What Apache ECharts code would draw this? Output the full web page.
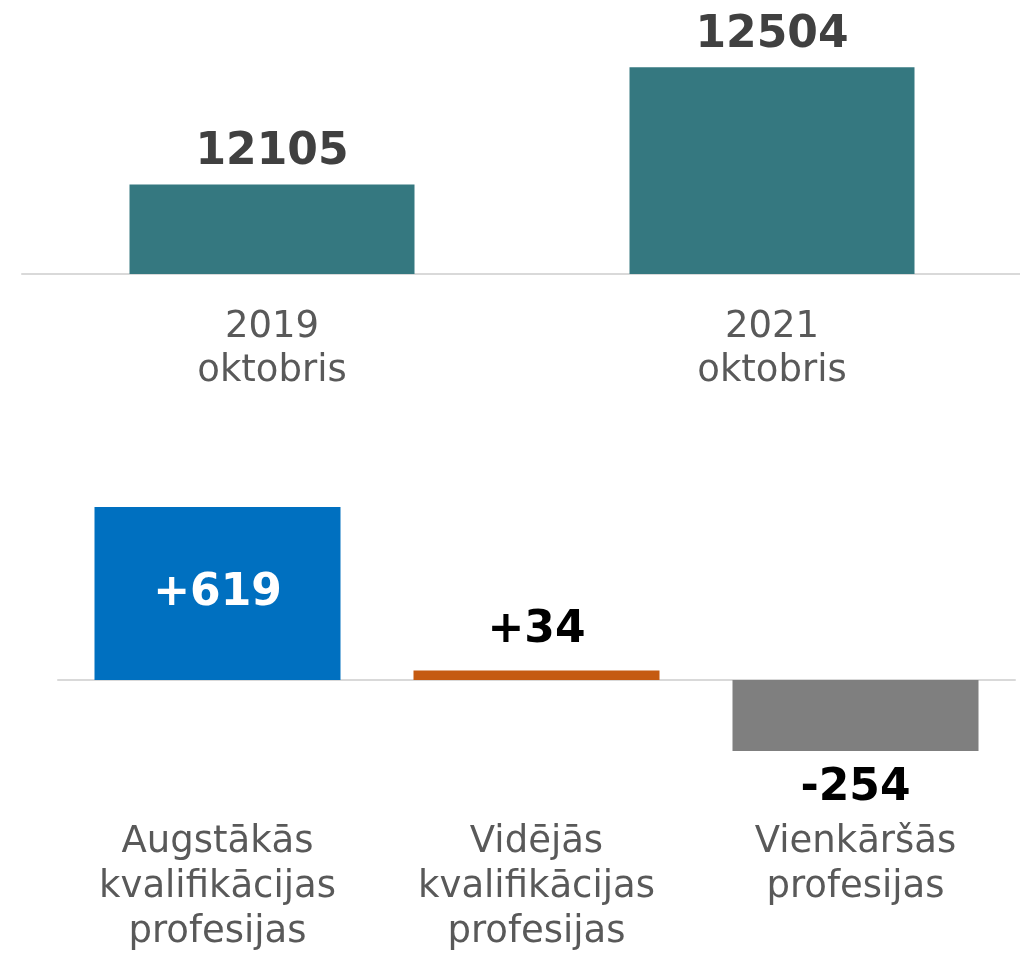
<!DOCTYPE html>
<html>
<head>
<meta charset="utf-8">
<script src="https://cdn.jsdelivr.net/npm/echarts@6/dist/echarts.min.js"></script>
<style>
  html, body { margin: 0; padding: 0; background: #fff; }
  #chart { width: 1020px; height: 953px; }
</style>
</head>
<body>
<div id="chart"></div>
<script>
const totalCategories = ['2019\noktobris', '2021\noktobris']
const totalValues = [12105, 12504]

const changeCategories = [
  'Augstākās\nkvalifikācijas\nprofesijas',
  'Vidējās\nkvalifikācijas\nprofesijas',
  'Vienkāršās\nprofesijas'
]
const changeValues = [619, 34, -254]

const changeColors = ['#0070C0', '#C55A11', '#7F7F7F']
const font = '"DejaVu Sans", Verdana, sans-serif'

const chart = echarts.init(document.getElementById('chart'))

const axisLine = {
  show: true,
  onZero: true,
  lineStyle: { color: '#d9d9d9', width: 2 }
}

function changeItem (value, i) {
  let label = { color: '#000000', position: value < 0 ? 'bottom' : 'top', distance: value < 0 ? 16 : 18 }
  if (i === 0) {
    label = { color: '#ffffff', position: 'inside' }
  }
  return {
    value: value,
    itemStyle: { color: changeColors[i] },
    label: label
  }
}

chart.setOption({
  animation: false,
  textStyle: { fontFamily: font },
  grid: [
    { left: 22, top: 39, width: 1000, height: 235, outerBoundsMode: 'none', containLabel: false },
    { left: 58, top: 484.4, width: 957, height: 279.5, outerBoundsMode: 'none', containLabel: false }
  ],
  xAxis: [
    {
      type: 'category',
      gridIndex: 0,
      data: totalCategories,
      axisLine: axisLine,
      axisTick: { show: false },
      axisLabel: {
        color: '#595959',
        fontFamily: font,
        fontSize: 37,
        lineHeight: 44,
        margin: 31
      }
    },
    {
      type: 'category',
      gridIndex: 1,
      data: changeCategories,
      axisLine: axisLine,
      axisTick: { show: false },
      axisLabel: {
        color: '#595959',
        fontFamily: font,
        fontSize: 37,
        lineHeight: 45,
        margin: 56
      }
    }
  ],
  yAxis: [
    {
      type: 'value',
      gridIndex: 0,
      min: 11800,
      max: 12600,
      show: false,
      splitLine: { show: false }
    },
    {
      type: 'value',
      gridIndex: 1,
      min: -300,
      max: 700,
      show: false,
      splitLine: { show: false }
    }
  ],
  series: [
    {
      type: 'bar',
      xAxisIndex: 0,
      yAxisIndex: 0,
      barWidth: 285,
      itemStyle: { color: '#357880' },
      label: {
        show: true,
        position: 'top',
        distance: 10,
        color: '#404040',
        fontFamily: font,
        fontWeight: 'bold',
        fontSize: 44
      },
      data: totalValues
    },
    {
      type: 'bar',
      xAxisIndex: 1,
      yAxisIndex: 1,
      barWidth: 246,
      label: {
        show: true,
        fontFamily: font,
        fontWeight: 'bold',
        fontSize: 44,
        formatter: p => (p.value > 0 ? '+' : '') + p.value
      },
      data: changeValues.map(changeItem)
    }
  ]
})

window.addEventListener('resize', () => chart.resize())
</script>
</body>
</html>
